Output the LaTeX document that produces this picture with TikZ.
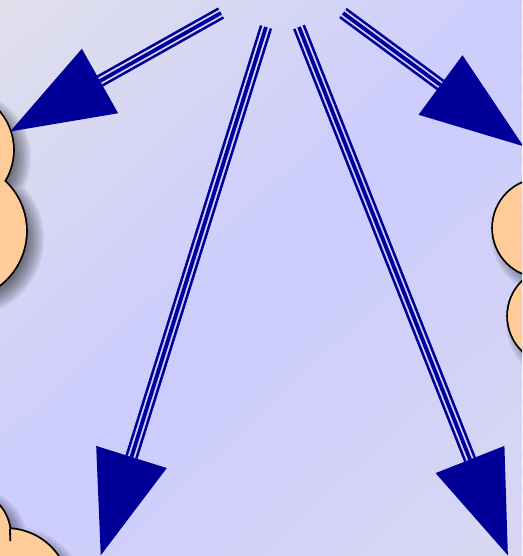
\documentclass[tikz,border=0pt]{standalone}
\usetikzlibrary{calc}
\definecolor{arrowblue}{RGB}{0,0,153}
\definecolor{cloudfill}{RGB}{255,204,153}
\definecolor{bgA}{RGB}{224,224,236}
\definecolor{bgB}{RGB}{204,204,254}
\definecolor{bgC}{RGB}{216,216,242}
\tikzset{
  thinline/.style={draw=arrowblue, line width=2.5pt},
  midline/.style={draw=arrowblue, line width=3.8pt},
  headfill/.style={fill=arrowblue},
  cloudedge/.style={draw=black, line width=3.6pt},
  cloudbody/.style={fill=cloudfill},
  cloudshadow/.style={fill=black, opacity=0.07},
}
\begin{document}
\begin{tikzpicture}[x=1pt,y=-1pt]
\useasboundingbox (0,0) rectangle (522,556);
\clip (0,0) rectangle (522,556);
% ---------- diagonal background gradient ----------
\foreach \i in {0,...,59}{
  \pgfmathsetmacro\ta{\i/60}
  \pgfmathsetmacro\tb{(\i+1.4)/60}
  \pgfmathsetmacro\tm{(\i+0.5)/60}
  \pgfmathtruncatemacro\side{\tm<0.5}
  \ifnum\side=1
    \pgfmathtruncatemacro\pc{200*\tm}
    \colorlet{bandc}{bgB!\pc!bgA}
  \else
    \pgfmathtruncatemacro\pc{200*(1-\tm)}
    \colorlet{bandc}{bgB!\pc!bgC}
  \fi
  \fill[bandc] ({522*\ta+556},{556*\ta-522}) -- ({522*\tb+556},{556*\tb-522})
     -- ({522*\tb-556},{556*\tb+522}) -- ({522*\ta-556},{556*\ta+522}) -- cycle;
}

% ---------- clouds: shadows ----------
\foreach \k in {0,...,9}{
  \fill[cloudshadow, shift={(8,8)}]
    (-46,150) circle[radius={49+2.2*\k}]
    (-42,231) circle[radius={58+2.2*\k}];
  \fill[cloudshadow, shift={(8,8)}]
    (542,228) circle[radius={39+2.2*\k}]
    (556,316) circle[radius={38+2.2*\k}];
  \fill[cloudshadow, shift={(8,8)}]
    (-35,535) circle[radius={35+2.2*\k}]
    (6,592) circle[radius={53+2.2*\k}];
}
% ---------- clouds: outlines and bodies ----------
\draw[cloudedge] (-46,150) circle[radius=59] (-42,231) circle[radius=68];
\fill[cloudbody] (-46,150) circle[radius=59] (-42,231) circle[radius=68];
\draw[cloudedge] (542,228) circle[radius=49] (556,316) circle[radius=48];
\fill[cloudbody] (542,228) circle[radius=49] (556,316) circle[radius=48];
\draw[cloudedge] (-35,535) circle[radius=45] (6,592) circle[radius=63];
\fill[cloudbody] (-35,535) circle[radius=45] (6,592) circle[radius=63];
\coordinate (tickA) at (10,529);
\coordinate (tickB) at (10.3,541);
\draw[black, line width=1.8pt] (tickA) -- (tickB);

% ---------- arrows ----------
\coordinate (s1) at (221,13);  \coordinate (b1) at (100,81);
\coordinate (s2) at (266,27);  \coordinate (b2) at (131.5,457);
\coordinate (s3) at (299,27);  \coordinate (b3) at (470,459.5);
\coordinate (s4) at (343,13);  \coordinate (b4) at (440.5,85);
\foreach \s/\b in {s1/b1,s2/b2,s3/b3,s4/b4}{
  \draw[thinline] ($(\s)!5.1pt!90:(\b)$) -- ($(\b)!5.1pt!-90:(\s)$);
  \draw[thinline] ($(\s)!5.1pt!-90:(\b)$) -- ($(\b)!5.1pt!90:(\s)$);
  \draw[midline] (\s) -- (\b);
  \fill[headfill] ($(\b)!37pt!90:(\s)$) -- ($(\b)!-103pt!(\s)$) -- ($(\b)!37pt!-90:(\s)$) -- cycle;
}
\end{tikzpicture}
\end{document}
